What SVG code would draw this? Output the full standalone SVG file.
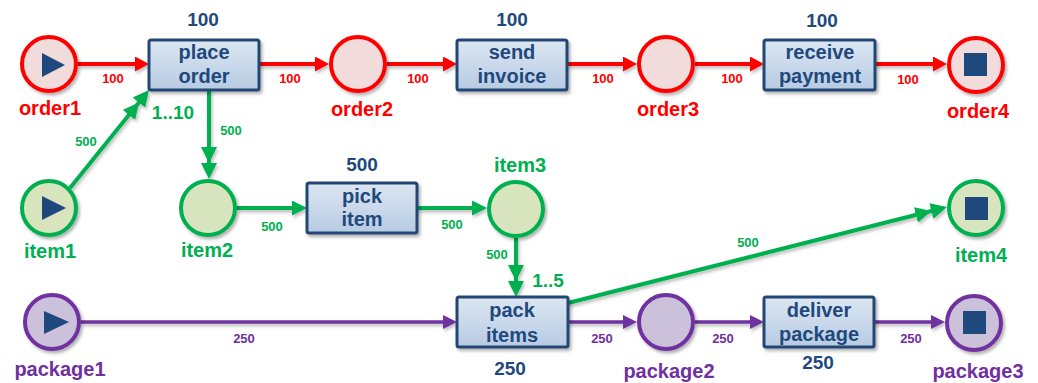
<svg xmlns="http://www.w3.org/2000/svg" width="1038" height="383" viewBox="0 0 1038 383">
<defs>
<linearGradient id="boxg" x1="0" y1="0" x2="0" y2="1">
<stop offset="0" stop-color="#dce6f2"/>
<stop offset="1" stop-color="#b7cbe3"/>
</linearGradient>
<filter id="sh" x="-20%" y="-20%" width="150%" height="160%">
<feDropShadow dx="2" dy="2.5" stdDeviation="1.6" flood-color="#000" flood-opacity="0.3"/>
</filter>
<filter id="lsh" filterUnits="userSpaceOnUse" x="0" y="0" width="1038" height="383">
<feDropShadow dx="1.5" dy="2.5" stdDeviation="1.5" flood-color="#000" flood-opacity="0.25"/>
</filter>
<marker id="ar" markerUnits="userSpaceOnUse" viewBox="0 0 14 15" markerWidth="14" markerHeight="15" refX="6" refY="7.5" orient="auto">
<path d="M0,0 L14,7.5 L0,15 z" fill="#ff0000"/>
</marker>
<marker id="ag" markerUnits="userSpaceOnUse" viewBox="0 0 15 15" markerWidth="15" markerHeight="15" refX="7" refY="7.5" orient="auto">
<path d="M0,0 L15,7.5 L0,15 z" fill="#00b050"/>
</marker>
<marker id="agg" markerUnits="userSpaceOnUse" viewBox="-16 0 32 16" markerWidth="32" markerHeight="16" refX="8" refY="8" orient="auto">
<path d="M0,0 L16,8 L0,16 z M-16,0 L0,8 L-16,16 z" fill="#00b050"/>
</marker>
<marker id="ap" markerUnits="userSpaceOnUse" viewBox="0 0 14 14" markerWidth="14" markerHeight="14" refX="6" refY="7" orient="auto">
<path d="M0,0 L14,7 L0,14 z" fill="#7030a0"/>
</marker>
</defs>
<style>
.box{fill:url(#boxg);stroke:#234675;stroke-width:3;filter:url(#sh)}
.bt{font-family:"Liberation Sans",Arial,sans-serif;font-weight:bold;font-size:20px;fill:#1f497d;text-anchor:middle}
.cnt{font-family:"Liberation Sans",Arial,sans-serif;font-weight:bold;font-size:19px;fill:#1f497d;text-anchor:middle}
.pr{fill:#f2dcdb;stroke:#ff0000;stroke-width:4;filter:url(#sh)}
.pg{fill:#d7e4bd;stroke:#00b050;stroke-width:4;filter:url(#sh)}
.pp{fill:#ccc1da;stroke:#7030a0;stroke-width:4;filter:url(#sh)}
.nl{font-family:"Liberation Sans",Arial,sans-serif;font-weight:bold;font-size:20px;text-anchor:middle}
.lr{fill:#ff0000}.lg{fill:#00b050}.lp{fill:#7030a0}
.el{font-family:"Liberation Sans",Arial,sans-serif;font-weight:bold;font-size:13px;text-anchor:middle}
.mult{font-family:"Liberation Sans",Arial,sans-serif;font-weight:bold;font-size:19px;fill:#00b050;text-anchor:middle}
.cr{stroke:#ff0000;stroke-width:4;fill:none}
.cg{stroke:#00b050;stroke-width:4;fill:none}
.cp{stroke:#7030a0;stroke-width:3.5;fill:none}
.ico{fill:#1f497d}
</style>
<g id="connectors">
<g filter="url(#lsh)">
<line class="cr" x1="78" y1="64" x2="141" y2="64" marker-end="url(#ar)"/>
<line class="cr" x1="259" y1="64" x2="321" y2="64" marker-end="url(#ar)"/>
<line class="cr" x1="387" y1="64" x2="449" y2="64" marker-end="url(#ar)"/>
<line class="cr" x1="567" y1="64" x2="629" y2="64" marker-end="url(#ar)"/>
<line class="cr" x1="695" y1="64" x2="756" y2="64" marker-end="url(#ar)"/>
<line class="cr" x1="875" y1="64" x2="939" y2="64" marker-end="url(#ar)"/>
<line class="cg" x1="70" y1="188" x2="144" y2="96.2" marker-end="url(#agg)"/>
<line class="cg" x1="209" y1="90" x2="209" y2="171" marker-end="url(#agg)"/>
<line class="cg" x1="237" y1="208" x2="299" y2="208" marker-end="url(#ag)"/>
<line class="cg" x1="417" y1="208" x2="479" y2="208" marker-end="url(#ag)"/>
<line class="cg" x1="516" y1="238" x2="516" y2="289" marker-end="url(#agg)"/>
<line class="cg" x1="568" y1="303" x2="939.2" y2="209" marker-end="url(#agg)"/>
<line class="cp" x1="81" y1="322" x2="449" y2="322" marker-end="url(#ap)"/>
<line class="cp" x1="568" y1="322" x2="629" y2="322" marker-end="url(#ap)"/>
<line class="cp" x1="695" y1="322" x2="756" y2="322" marker-end="url(#ap)"/>
<line class="cp" x1="874" y1="322" x2="937" y2="322" marker-end="url(#ap)"/>
</g>
<text class="el lr" x="113" y="83">100</text>
<text class="el lr" x="290" y="83">100</text>
<text class="el lr" x="418" y="83">100</text>
<text class="el lr" x="603" y="83">100</text>
<text class="el lr" x="732" y="83">100</text>
<text class="el lr" x="908" y="84">100</text>
<text class="el lg" x="86" y="146">500</text>
<text class="el lg" x="231" y="135">500</text>
<text class="el lg" x="272" y="231">500</text>
<text class="el lg" x="452" y="229">500</text>
<text class="el lg" x="497" y="259">500</text>
<text class="el lg" x="748" y="247">500</text>
<text class="el lp" x="244" y="343">250</text>
<text class="el lp" x="602" y="343">250</text>
<text class="el lp" x="723" y="343">250</text>
<text class="el lp" x="911" y="343">250</text>
<text class="mult" x="173" y="119">1..10</text>
<text class="mult" x="548" y="287">1..5</text>
</g>
<g id="order1">
<circle class="pr" cx="49" cy="64" r="27"/>
<polygon class="ico" points="42,53 65,65 42,77"/>
<text class="nl lr" x="50" y="115">order1</text>
</g>
<g id="place-order">
<text class="cnt" x="203" y="26">100</text>
<rect class="box" x="149" y="40" width="110" height="50" rx="2"/>
<text class="bt" x="204" y="59">place</text>
<text class="bt" x="204" y="83">order</text>
</g>
<g id="order2">
<circle class="pr" cx="358" cy="64" r="27"/>
<text class="nl lr" x="362" y="116">order2</text>
</g>
<g id="send-invoice">
<text class="cnt" x="512" y="26">100</text>
<rect class="box" x="457" y="40" width="110" height="50" rx="2"/>
<text class="bt" x="512" y="59">send</text>
<text class="bt" x="512" y="83">invoice</text>
</g>
<g id="order3">
<circle class="pr" cx="666" cy="64" r="27"/>
<text class="nl lr" x="668" y="116">order3</text>
</g>
<g id="receive-payment">
<text class="cnt" x="822" y="27">100</text>
<rect class="box" x="764" y="40" width="111" height="50" rx="2"/>
<text class="bt" x="820" y="59">receive</text>
<text class="bt" x="820" y="83">payment</text>
</g>
<g id="order4">
<circle class="pr" cx="976" cy="65" r="27"/>
<rect class="ico" x="964" y="53" width="23" height="23"/>
<text class="nl lr" x="978" y="118">order4</text>
</g>
<g id="item1">
<circle class="pg" cx="49" cy="208" r="27"/>
<polygon class="ico" points="42,196 66,208 42,220"/>
<text class="nl lg" x="50" y="258">item1</text>
</g>
<g id="item2">
<circle class="pg" cx="208" cy="208" r="27"/>
<text class="nl lg" x="207" y="257">item2</text>
</g>
<g id="pick-item">
<text class="cnt" x="362" y="171">500</text>
<rect class="box" x="307" y="183" width="110" height="50" rx="2"/>
<text class="bt" x="362" y="203">pick</text>
<text class="bt" x="362" y="226">item</text>
</g>
<g id="item3">
<circle class="pg" cx="516" cy="209" r="27"/>
<text class="nl lg" x="520" y="172">item3</text>
</g>
<g id="item4">
<circle class="pg" cx="976" cy="208" r="27"/>
<rect class="ico" x="965" y="197" width="23" height="23"/>
<text class="nl lg" x="981" y="262">item4</text>
</g>
<g id="package1">
<circle class="pp" cx="52" cy="322" r="27"/>
<polygon class="ico" points="44,311 69,322 44,334"/>
<text class="nl lp" x="60" y="376">package1</text>
</g>
<g id="pack-items">
<rect class="box" x="457" y="297" width="111" height="50" rx="2"/>
<text class="bt" x="512" y="317">pack</text>
<text class="bt" x="512" y="342">items</text>
<text class="cnt" x="510" y="375">250</text>
</g>
<g id="package2">
<circle class="pp" cx="666" cy="322" r="27"/>
<text class="nl lp" x="669" y="378">package2</text>
</g>
<g id="deliver-package">
<rect class="box" x="764" y="297" width="110" height="50" rx="2"/>
<text class="bt" x="819" y="317">deliver</text>
<text class="bt" x="819" y="341">package</text>
<text class="cnt" x="818" y="369">250</text>
</g>
<g id="package3">
<circle class="pp" cx="974" cy="323" r="27"/>
<rect class="ico" x="963" y="311" width="23" height="23"/>
<text class="nl lp" x="978" y="378">package3</text>
</g>
</svg>
